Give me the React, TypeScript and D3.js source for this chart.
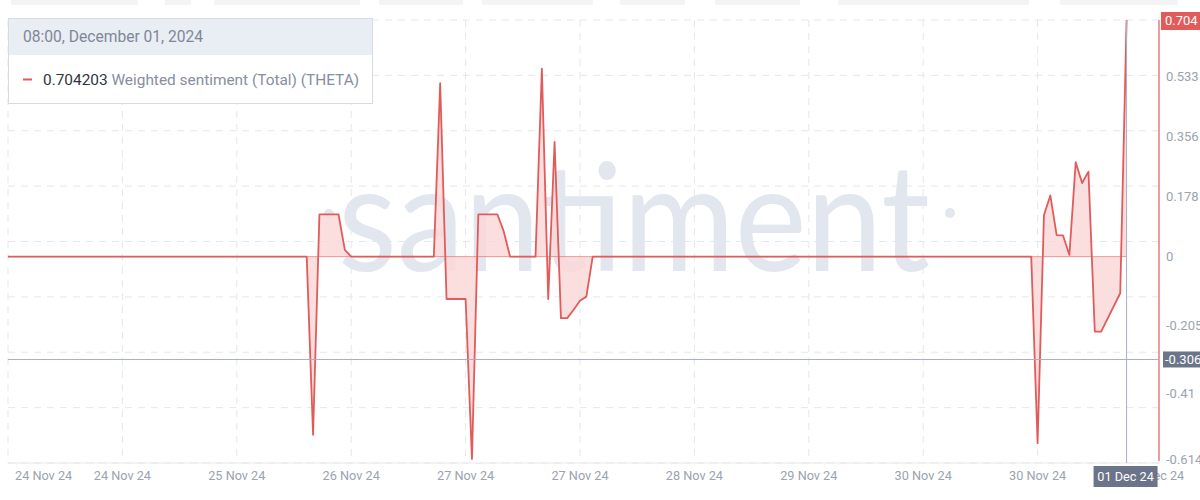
import React, { useEffect, useRef } from "react";
import * as d3 from "d3";

// series start: 24 Nov 2024 00:00, hourly points
const startTime = new Date(2024, 10, 24, 0, 0);
const endHour = 180;

// hour offsets where the series changes (flat stretches in between)
const sentimentHours = [
  0, 47, 48, 49, 52, 53, 54,
  67, 68, 69, 72, 73, 74, 77, 78, 79,
  83, 84, 85, 86, 87, 88, 89, 90, 91, 92,
  161, 162, 163, 164, 165, 166, 167, 168, 169, 170, 171, 172,
  175, 176,
];
const sentimentValues = [
  0, 0, -0.53, 0.126, 0.126, 0.02, 0,
  0, 0.516, -0.126, -0.126, -0.602, 0.126, 0.126, 0.075, 0,
  0, 0.559, -0.126, 0.341, -0.183, -0.183, -0.158, -0.131, -0.119, 0,
  0, -0.555, 0.124, 0.182, 0.064, 0.063, 0.005, 0.281, 0.219, 0.253, -0.223, -0.223,
  -0.109, 0.704203,
];

const yTickValues = [0.533, 0.356, 0.178, 0, -0.205, -0.41, -0.614];
const yMax = 0.704;
const yMin = -0.614;
const xTickHours = [0, 18, 36, 54, 72, 90, 108, 126, 144, 162, 180];
const hoverValue = -0.306;
const hoverHour = 176;

const RED = "#e25b5b";
const GRID = "#e4e7ee";
const MUTED = "#9ba2b0";
const SLATE = "#6c7489";
const FONT = "Roboto, 'Open Sans', sans-serif";

const App = () => {
  const svgRef = useRef<SVGSVGElement>(null);

  useEffect(() => {
    const svg = d3.select(svgRef.current);
    svg.selectAll("*").remove();

    const left = 8;
    const plotRight = 1159;
    const top = 20;
    const bottom = 463;

    const x = d3
      .scaleTime()
      .domain([startTime, d3.timeHour.offset(startTime, endHour)])
      .range([left, 1152]);
    const y = d3.scaleLinear().domain([yMin, yMax]).range([bottom, top]);

    const data = sentimentHours.map((h, i) => ({
      date: d3.timeHour.offset(startTime, h),
      value: sentimentValues[i],
    }));

    // faded toolbar strip at the very top
    const strip = [
      [11, 138], [165, 191], [214, 360], [379, 463], [482, 593],
      [620, 685], [715, 800], [838, 1029], [1060, 1178],
    ];
    svg
      .append("g")
      .selectAll("rect")
      .data(strip)
      .enter()
      .append("rect")
      .attr("x", (d) => d[0])
      .attr("y", 0)
      .attr("width", (d) => d[1] - d[0])
      .attr("height", 5)
      .attr("fill", "#f3f4f6");

    // watermark
    const wm = svg.append("g").attr("fill", "#e2e6ef");
    wm.append("text")
      .attr("x", 338)
      .attr("y", 271)
      .attr("font-family", "Lato, sans-serif")
      .attr("font-size", 150)
      .attr("textLength", 592)
      .attr("lengthAdjust", "spacingAndGlyphs")
      .text("santiment");
    wm.append("circle").attr("cx", 329).attr("cy", 214).attr("r", 5);
    wm.append("circle").attr("cx", 950).attr("cy", 213).attr("r", 5);

    // grid
    const grid = svg.append("g").attr("stroke", GRID).attr("stroke-dasharray", "7,6");
    const gridYs = d3.range(9).map((i) => top + (i * (bottom - top)) / 8);
    grid
      .selectAll("line.h")
      .data(gridYs)
      .enter()
      .append("line")
      .attr("x1", left)
      .attr("x2", plotRight)
      .attr("y1", (d) => d)
      .attr("y2", (d) => d);
    const xTicks = xTickHours.map((h) => d3.timeHour.offset(startTime, h));
    grid
      .selectAll("line.v")
      .data(xTicks.slice(0, -1))
      .enter()
      .append("line")
      .attr("x1", (d) => x(d))
      .attr("x2", (d) => x(d))
      .attr("y1", top)
      .attr("y2", bottom);

    // x axis line
    svg
      .append("line")
      .attr("x1", left)
      .attr("x2", plotRight)
      .attr("y1", bottom)
      .attr("y2", bottom)
      .attr("stroke", "#e9eaee");

    // x tick labels
    const fmt = d3.timeFormat("%d %b %y");
    svg
      .append("g")
      .selectAll("text")
      .data(xTicks)
      .enter()
      .append("text")
      .attr("x", (d, i) => (i === 0 ? x(d) + 7 : i === xTicks.length - 1 ? x(d) + 4 : x(d)))
      .attr("y", 480)
      .attr("text-anchor", (d, i) => (i === 0 ? "start" : "middle"))
      .attr("font-family", FONT)
      .attr("font-size", 12.7)
      .attr("fill", MUTED)
      .text((d) => fmt(d));

    // area + line
    const area = d3
      .area<{ date: Date; value: number }>()
      .x((d) => x(d.date))
      .y0(y(0))
      .y1((d) => y(d.value));
    svg.append("path").datum(data).attr("d", area).attr("fill", "#fad8d8").attr("fill-opacity", 0.85);

    svg
      .append("line")
      .attr("x1", x(data[0].date))
      .attr("x2", x(data[data.length - 1].date))
      .attr("y1", y(0))
      .attr("y2", y(0))
      .attr("stroke", RED)
      .attr("stroke-opacity", 0.6);

    const line = d3
      .line<{ date: Date; value: number }>()
      .x((d) => x(d.date))
      .y((d) => y(d.value));
    svg
      .append("path")
      .datum(data)
      .attr("d", line)
      .attr("fill", "none")
      .attr("stroke", RED)
      .attr("stroke-width", 1.8)
      .attr("stroke-linejoin", "round");

    // right axis
    svg
      .append("line")
      .attr("x1", plotRight)
      .attr("x2", plotRight)
      .attr("y1", top)
      .attr("y2", bottom - 2)
      .attr("stroke", RED)
      .attr("stroke-width", 1.2);
    svg
      .append("g")
      .selectAll("text")
      .data(yTickValues)
      .enter()
      .append("text")
      .attr("x", 1166)
      .attr("y", (d) => (d === yMin ? y(d) + 1 : y(d) + 4))
      .attr("font-family", FONT)
      .attr("font-size", 13)
      .attr("fill", MUTED)
      .text((d) => String(d));

    // crosshair
    const hx = x(d3.timeHour.offset(startTime, hoverHour));
    const hy = y(hoverValue);
    svg
      .append("line")
      .attr("x1", hx)
      .attr("x2", hx)
      .attr("y1", top)
      .attr("y2", bottom)
      .attr("stroke", "#a9aec4");
    svg
      .append("line")
      .attr("x1", left)
      .attr("x2", plotRight)
      .attr("y1", hy)
      .attr("y2", hy)
      .attr("stroke", "#a9aec4");

    svg.append("rect").attr("x", hx - 33).attr("y", 466).attr("width", 64).attr("height", 21).attr("fill", SLATE);
    svg
      .append("text")
      .attr("x", hx - 1)
      .attr("y", 481)
      .attr("text-anchor", "middle")
      .attr("font-family", FONT)
      .attr("font-size", 12.7)
      .attr("fill", "#fff")
      .text(fmt(d3.timeHour.offset(startTime, hoverHour)));

    svg.append("rect").attr("x", 1163).attr("y", hy - 8).attr("width", 40).attr("height", 16).attr("fill", SLATE);
    svg
      .append("text")
      .attr("x", 1165)
      .attr("y", hy + 4.5)
      .attr("font-family", FONT)
      .attr("font-size", 13)
      .attr("fill", "#fff")
      .text(String(hoverValue));

    svg.append("rect").attr("x", 1161).attr("y", y(yMax) - 8).attr("width", 40).attr("height", 18).attr("fill", RED);
    svg
      .append("text")
      .attr("x", 1165)
      .attr("y", y(yMax) + 5)
      .attr("font-family", FONT)
      .attr("font-size", 13)
      .attr("fill", "#fff")
      .text(String(yMax));

    // tooltip
    const tip = svg.append("g");
    tip.append("rect").attr("x", 8.5).attr("y", 18.5).attr("width", 364).attr("height", 85).attr("fill", "#fff").attr("stroke", "#d7dbe3");
    tip.append("rect").attr("x", 9).attr("y", 19).attr("width", 363).attr("height", 36).attr("fill", "#e9edf4");
    tip.append("text")
      .attr("x", 23)
      .attr("y", 42)
      .attr("font-family", FONT)
      .attr("font-size", 15.6)
      .attr("fill", "#7f8798")
      .text(d3.timeFormat("%H:%M, %B %d, %Y")(d3.timeHour.offset(startTime, hoverHour)));
    tip.append("line").attr("x1", 23).attr("x2", 32).attr("y1", 79.5).attr("y2", 79.5).attr("stroke", RED).attr("stroke-width", 2);
    const row = tip.append("text").attr("x", 43).attr("y", 84.5).attr("font-family", FONT).attr("font-size", 15.4);
    row.append("tspan").attr("fill", "#2f3542").text(String(sentimentValues[sentimentValues.length - 1]));
    row.append("tspan").attr("fill", "#878e9e").text(" Weighted sentiment (Total) (THETA)");
  }, []);

  return (
    <svg
      ref={svgRef}
      width={1200}
      height={500}
      style={{ position: "absolute", left: 0, top: 0, background: "#fff" }}
    />
  );
};

export default App;
